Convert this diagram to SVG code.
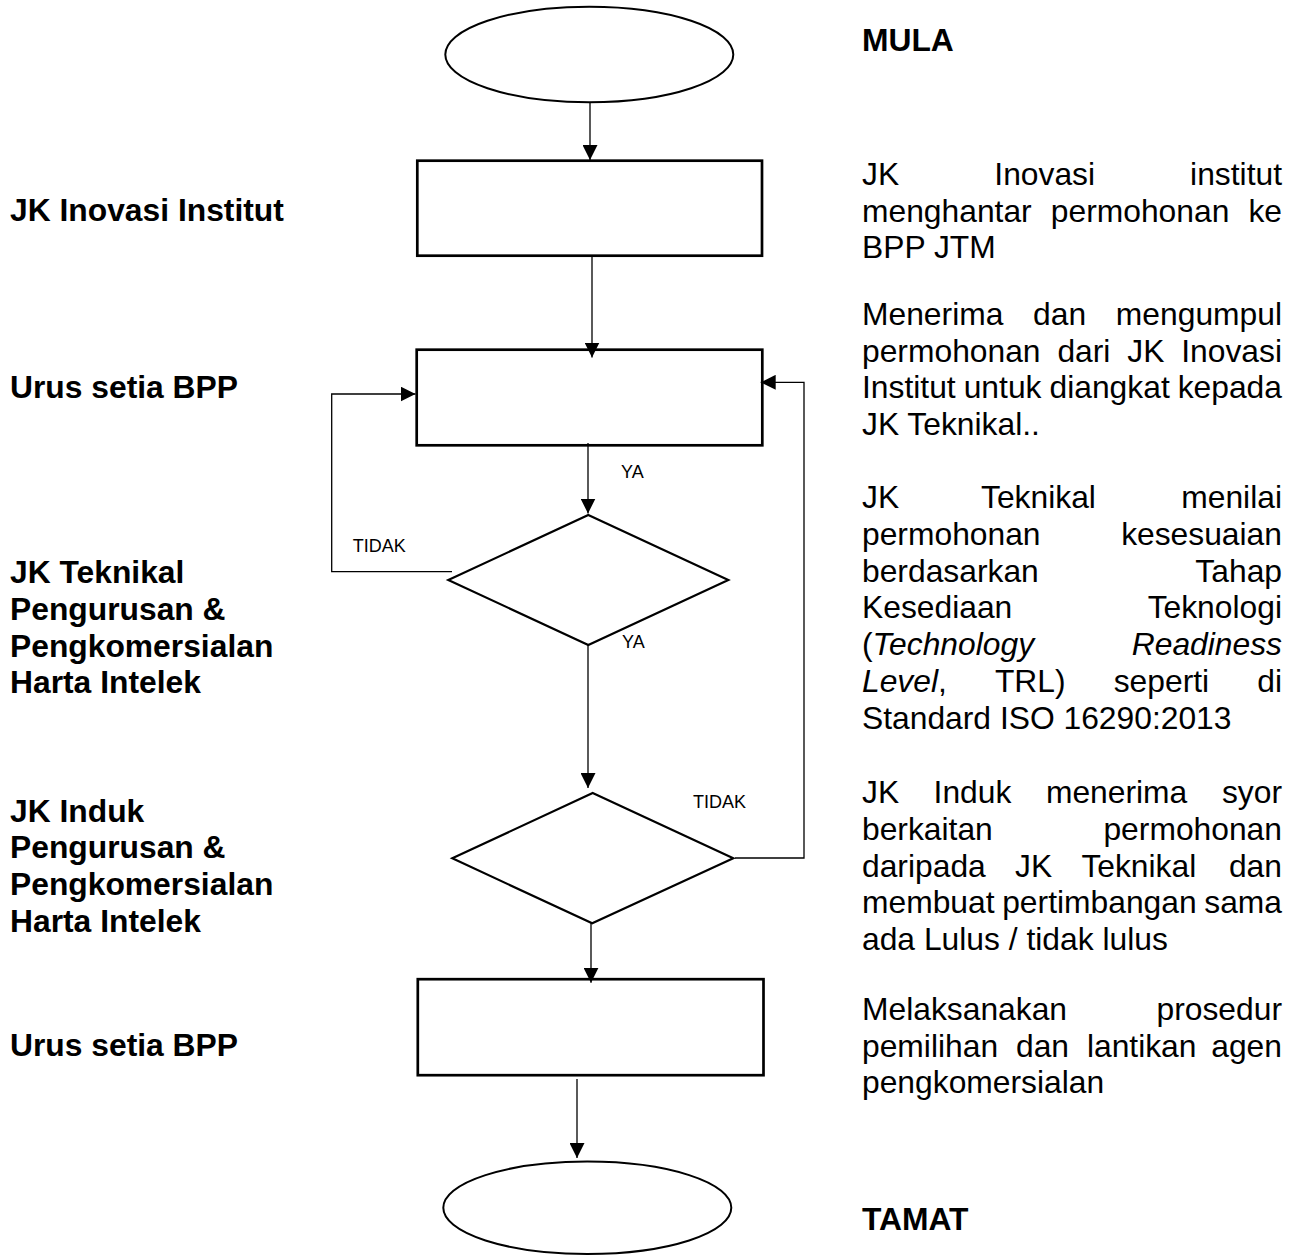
<svg xmlns="http://www.w3.org/2000/svg" width="1299" height="1256" viewBox="0 0 1299 1256">
  <style>
    text { font-family: "Liberation Sans", Arial, sans-serif; fill: #000; }
    .body { font-size: 31.8px; }
    .bold { font-size: 31.8px; font-weight: bold; }
    .small { font-size: 18px; }
    .it { font-style: italic; }
    .term { fill: #fff; stroke: #000; stroke-width: 2; }
    .box { fill: #fff; stroke: #000; stroke-width: 2.7; }
    .dec { fill: #fff; stroke: #000; stroke-width: 2.2; }
    .conn { fill: none; stroke: #000; stroke-width: 1.3; marker-end: url(#arrow); }
    .e { text-anchor: end; }
  </style>
  <defs>
    <marker id="arrow" markerUnits="userSpaceOnUse" markerWidth="15" markerHeight="15" refX="15" refY="7.5" orient="auto">
      <path d="M0,0 L15,7.5 L0,15 Z" fill="#000"/>
    </marker>
  </defs>
  <rect width="1299" height="1256" fill="#fff"/>

  <!-- flow shapes -->
  <g id="node-start"><ellipse class="term" cx="589.3" cy="54.5" rx="144" ry="47.8"/></g>
  <g id="node-inovasi"><rect class="box" x="417.3" y="160.7" width="344.7" height="95"/></g>
  <g id="node-urus-setia-1"><rect class="box" x="416.7" y="349.7" width="345.6" height="95.6"/></g>
  <g id="node-jk-teknikal"><polygon class="dec" points="588.3,515 728.3,580 588.3,645 448.3,580"/></g>
  <g id="node-jk-induk"><polygon class="dec" points="592.7,793 733.3,858.3 592.2,923.3 452.3,858.3"/></g>
  <g id="node-urus-setia-2"><rect class="box" x="417.8" y="979.2" width="345.7" height="96"/></g>
  <g id="node-end"><ellipse class="term" cx="587.3" cy="1207.8" rx="144" ry="46.2"/></g>

  <!-- connectors -->
  <g id="connectors">
    <path class="conn" d="M590,103 V160"/>
    <path class="conn" d="M592,255 V357.5"/>
    <path class="conn" d="M588,443 V513.5"/>
    <path class="conn" d="M588,645 V788"/>
    <path class="conn" d="M591,923 V982.7"/>
    <path class="conn" d="M577,1079 V1158"/>
    <path class="conn" d="M452,571.7 H331.7 V394 H415.5"/>
    <path class="conn" d="M735,858 H804 V382.3 H760.7"/>
    <text class="small" x="621" y="478">YA</text>
    <text class="small" x="622" y="648">YA</text>
    <text class="small" x="352.7" y="551.7">TIDAK</text>
    <text class="small" x="693" y="808">TIDAK</text>
  </g>

  <!-- actor labels -->
  <g id="actors">
    <text class="bold" x="10" y="221">JK Inovasi Institut</text>
    <text class="bold" x="10" y="398.3">Urus setia BPP</text>
    <text class="bold" x="10" y="583.3">JK Teknikal</text>
    <text class="bold" x="10" y="620">Pengurusan &amp;</text>
    <text class="bold" x="10" y="656.7">Pengkomersialan</text>
    <text class="bold" x="10" y="693.3">Harta Intelek</text>
    <text class="bold" x="10" y="821.7">JK Induk</text>
    <text class="bold" x="10" y="858.3">Pengurusan &amp;</text>
    <text class="bold" x="10" y="895">Pengkomersialan</text>
    <text class="bold" x="10" y="931.7">Harta Intelek</text>
    <text class="bold" x="10" y="1056">Urus setia BPP</text>
  </g>

  <!-- step descriptions, justified column 862..1282 -->
  <g id="descriptions" class="body">
    <text class="bold" x="862" y="50.7">MULA</text>

    <text class="body" y="185"><tspan x="862">JK</tspan><tspan x="994.3">Inovasi</tspan><tspan x="1282" class="e">institut</tspan></text>
    <text class="body" y="221.7"><tspan x="862">menghantar</tspan><tspan x="1050.8">permohonan</tspan><tspan x="1282" class="e">ke</tspan></text>
    <text class="body" x="862" y="258.3">BPP JTM</text>

    <text class="body" y="325"><tspan x="862">Menerima</tspan><tspan x="1033.1">dan</tspan><tspan x="1282" class="e">mengumpul</tspan></text>
    <text class="body" y="361.7"><tspan x="862">permohonan</tspan><tspan x="1057.4">dari</tspan><tspan x="1127.3">JK</tspan><tspan x="1282" class="e">Inovasi</tspan></text>
    <text class="body" y="398.3"><tspan x="862">Institut</tspan><tspan x="963.7">untuk</tspan><tspan x="1049.5">diangkat</tspan><tspan x="1282" class="e">kepada</tspan></text>
    <text class="body" x="862" y="435">JK Teknikal..</text>

    <text class="body" y="508.3"><tspan x="862">JK</tspan><tspan x="981">Teknikal</tspan><tspan x="1282" class="e">menilai</tspan></text>
    <text class="body" y="545"><tspan x="862">permohonan</tspan><tspan x="1282" class="e">kesesuaian</tspan></text>
    <text class="body" y="581.6"><tspan x="862">berdasarkan</tspan><tspan x="1282" class="e">Tahap</tspan></text>
    <text class="body" y="618.3"><tspan x="862">Kesediaan</tspan><tspan x="1282" class="e">Teknologi</tspan></text>
    <text class="body" y="655"><tspan x="862">(</tspan><tspan class="it">Technology</tspan><tspan x="1282" class="e it">Readiness</tspan></text>
    <text class="body" y="691.6"><tspan x="862" class="it">Level</tspan><tspan>,</tspan><tspan x="994.9">TRL)</tspan><tspan x="1113.7">seperti</tspan><tspan x="1282" class="e">di</tspan></text>
    <text class="body" x="862" y="729">Standard ISO 16290:2013</text>

    <text class="body" y="803"><tspan x="862">JK</tspan><tspan x="933.6">Induk</tspan><tspan x="1045.9">menerima</tspan><tspan x="1282" class="e">syor</tspan></text>
    <text class="body" y="840"><tspan x="862">berkaitan</tspan><tspan x="1282" class="e">permohonan</tspan></text>
    <text class="body" y="876.7"><tspan x="862">daripada</tspan><tspan x="1015">JK</tspan><tspan x="1081.4">Teknikal</tspan><tspan x="1282" class="e">dan</tspan></text>
    <text class="body" y="913.3"><tspan x="862">membuat</tspan><tspan x="1002.2">pertimbangan</tspan><tspan x="1282" class="e">sama</tspan></text>
    <text class="body" x="862" y="950">ada Lulus / tidak lulus</text>

    <text class="body" y="1020"><tspan x="862">Melaksanakan</tspan><tspan x="1282" class="e">prosedur</tspan></text>
    <text class="body" y="1056.7"><tspan x="862">pemilihan</tspan><tspan x="1016">dan</tspan><tspan x="1086.9">lantikan</tspan><tspan x="1282" class="e">agen</tspan></text>
    <text class="body" x="862" y="1093.3">pengkomersialan</text>

    <text class="bold" x="862" y="1230">TAMAT</text>
  </g>
</svg>
